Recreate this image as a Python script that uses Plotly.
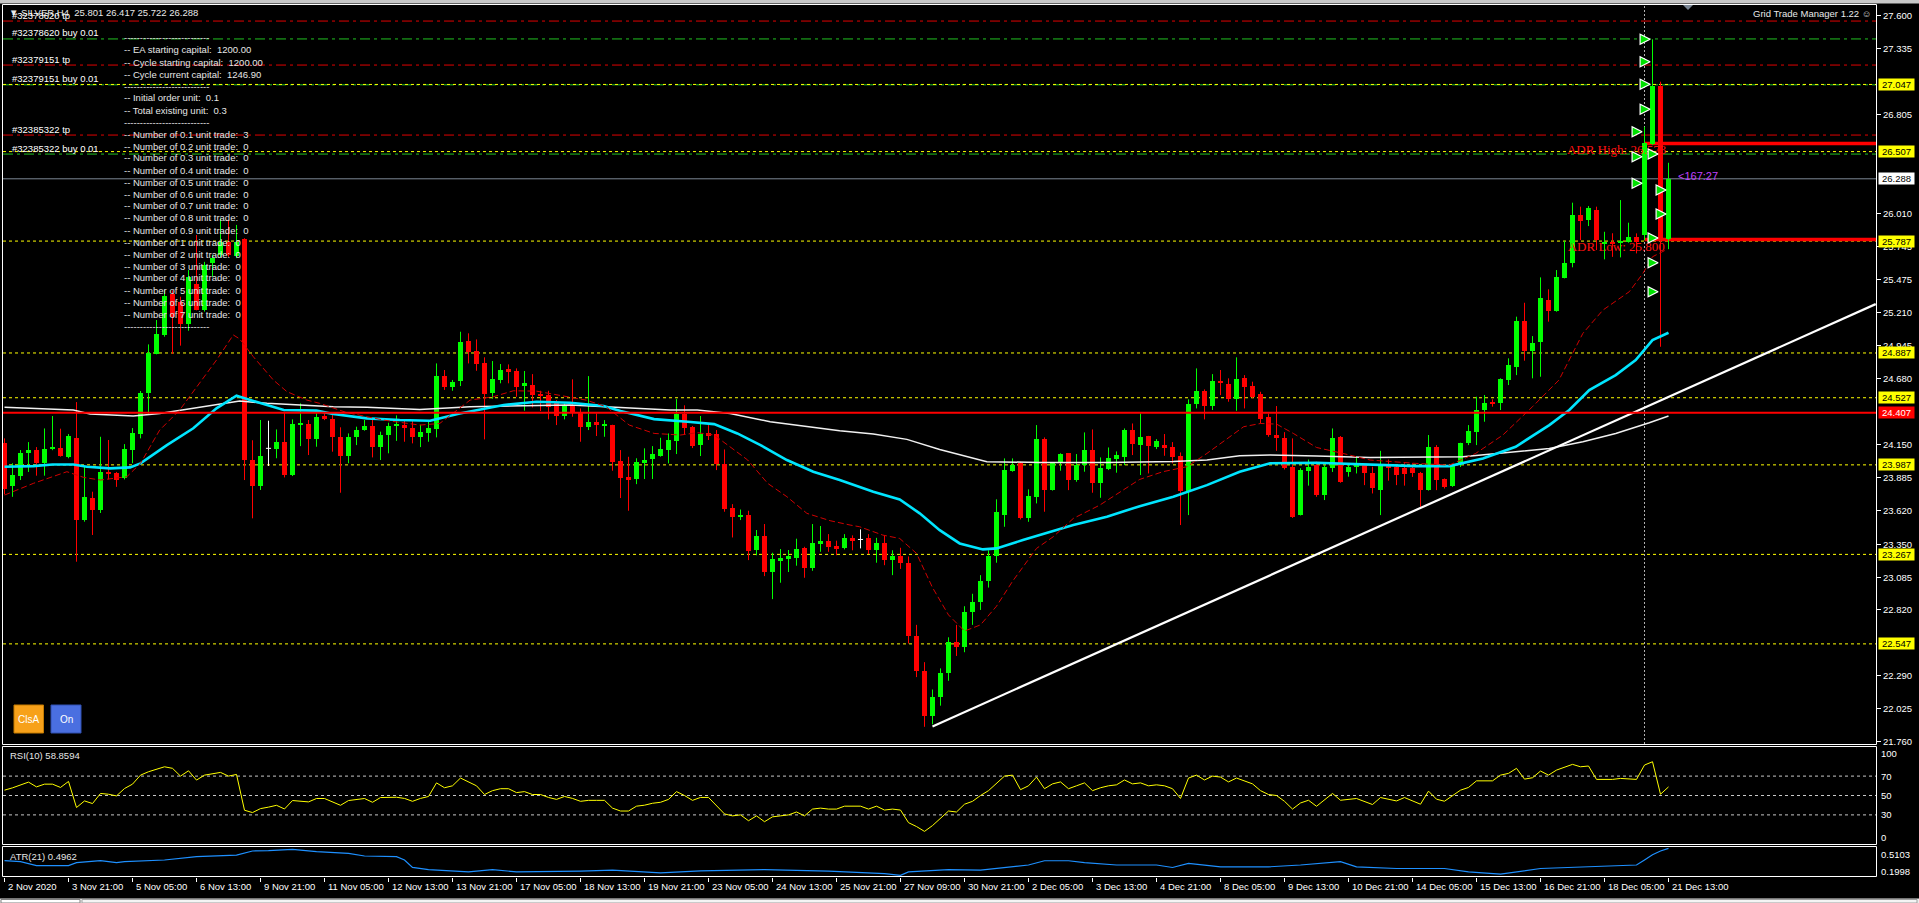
import plotly.graph_objects as go

W, H = 1919, 903
FONT = "Liberation Sans, Arial, sans-serif"

# ---------------- data ----------------
opens = [24.160, 23.820, 23.900, 24.080, 24.106, 24.000, 24.117, 24.120, 24.053, 24.200,
         23.543, 23.718, 23.624, 23.932, 23.920, 23.878, 24.107, 24.235, 24.562, 24.880,
         25.031, 25.360, 25.300, 25.120, 25.440, 25.233, 25.610, 25.675, 25.780, 25.670,
         25.800, 24.030, 23.817, 24.120, 24.118, 24.168, 23.905, 24.315, 24.315, 24.195,
         24.380, 24.360, 24.208, 24.060, 24.208, 24.267, 24.300, 24.128, 24.227, 24.300,
         24.310, 24.280, 24.208, 24.245, 24.275, 24.701, 24.615, 24.660, 24.983, 24.902,
         24.809, 24.562, 24.668, 24.758, 24.742, 24.629, 24.629, 24.557, 24.548, 24.482,
         24.380, 24.460, 24.412, 24.288, 24.331, 24.300, 24.307, 24.017, 23.886, 23.870,
         24.000, 24.034, 24.060, 24.106, 24.178, 24.396, 24.291, 24.146, 24.240, 24.235,
         23.991, 23.637, 23.570, 23.583, 23.302, 23.414, 23.127, 23.216, 23.229, 23.240,
         23.318, 23.159, 23.350, 23.374, 23.334, 23.315, 23.395, 23.387, 23.395, 23.300,
         23.360, 23.220, 23.250, 23.200, 22.610, 22.330, 21.970, 22.120, 22.310, 22.560,
         22.520, 22.800, 22.880, 23.050, 23.250, 23.583, 23.937, 23.999, 23.556, 23.730,
         24.194, 23.784, 23.999, 24.080, 23.865, 23.985, 24.106, 23.843, 23.953, 24.034,
         24.053, 24.267, 24.146, 24.219, 24.133, 24.146, 24.133, 24.058, 23.776, 24.476,
         24.581, 24.460, 24.661, 24.637, 24.516, 24.682, 24.621, 24.556, 24.369, 24.227,
         24.200, 23.970, 23.583, 23.940, 23.985, 23.744, 23.958, 24.213, 23.932, 23.972,
         23.985, 23.924, 23.784, 23.985, 23.972, 23.960, 23.960, 23.923, 23.784, 24.133,
         23.870, 23.816, 23.985, 24.160, 24.253, 24.428, 24.495, 24.487, 24.669, 24.776,
         25.144, 24.902, 24.978, 25.313, 25.224, 25.493, 25.608, 25.997, 25.957, 26.037,
         25.763, 25.780, 25.770, 25.782, 25.822, 25.835, 26.568, 27.034, 25.801]

highs = [24.200, 24.000, 24.106, 24.170, 24.130, 24.280, 24.380, 24.278, 24.235, 24.492,
         23.972, 23.771, 24.213, 24.187, 23.930, 24.154, 24.283, 24.581, 24.956, 25.152,
         25.393, 25.390, 25.340, 25.554, 25.836, 25.620, 25.675, 25.970, 25.957, 25.917,
         25.810, 24.185, 24.348, 24.342, 24.272, 24.415, 24.353, 24.482, 24.348, 24.401,
         24.400, 24.388, 24.289, 24.240, 24.294, 24.348, 24.348, 24.254, 24.326, 24.385,
         24.340, 24.340, 24.310, 24.334, 24.803, 24.750, 24.670, 25.058, 25.045, 24.996,
         24.852, 24.822, 24.798, 24.795, 24.763, 24.742, 24.717, 24.583, 24.583, 24.508,
         24.482, 24.675, 24.441, 24.701, 24.401, 24.347, 24.310, 24.106, 24.052, 24.040,
         24.120, 24.138, 24.205, 24.240, 24.516, 24.466, 24.300, 24.380, 24.307, 24.267,
         24.111, 23.671, 23.628, 23.618, 23.463, 23.511, 23.280, 23.310, 23.302, 23.393,
         23.328, 23.511, 23.495, 23.430, 23.377, 23.430, 23.420, 23.468, 23.430, 23.400,
         23.420, 23.300, 23.320, 23.250, 22.700, 22.400, 22.180, 22.350, 22.600, 22.700,
         22.850, 22.950, 23.100, 23.300, 23.710, 24.039, 24.039, 24.012, 23.790, 24.307,
         24.208, 24.000, 24.080, 24.080, 24.074, 24.248, 24.272, 24.047, 24.127, 24.095,
         24.280, 24.320, 24.401, 24.220, 24.194, 24.235, 24.170, 24.087, 24.514, 24.763,
         24.594, 24.717, 24.750, 24.683, 24.852, 24.709, 24.656, 24.575, 24.400, 24.460,
         24.250, 24.200, 23.960, 24.030, 24.012, 23.985, 24.280, 24.219, 23.999, 24.053,
         23.993, 23.972, 24.100, 24.030, 23.985, 24.000, 24.000, 23.930, 24.227, 24.146,
         23.878, 23.993, 24.165, 24.307, 24.535, 24.549, 24.514, 24.683, 24.844, 25.179,
         25.291, 25.023, 25.495, 25.399, 25.554, 25.790, 26.096, 26.064, 26.069, 26.064,
         25.862, 25.850, 26.117, 25.935, 25.849, 26.707, 27.410, 27.069, 26.417]

lows = [23.750, 23.730, 23.865, 23.930, 23.900, 23.900, 24.105, 24.053, 24.040, 23.208,
        23.530, 23.423, 23.600, 23.870, 23.810, 23.870, 24.000, 24.200, 24.388, 24.876,
        25.018, 24.879, 24.946, 25.066, 25.230, 25.220, 25.500, 25.660, 25.660, 25.650,
        23.865, 23.557, 23.785, 23.978, 24.040, 23.886, 23.897, 24.138, 24.066, 24.133,
        24.347, 24.093, 23.763, 24.000, 24.146, 24.262, 24.047, 24.026, 24.080, 24.180,
        24.173, 24.160, 24.130, 24.173, 24.208, 24.590, 24.583, 24.621, 24.803, 24.744,
        24.192, 24.519, 24.643, 24.643, 24.535, 24.423, 24.449, 24.420, 24.353, 24.307,
        24.353, 24.374, 24.173, 24.267, 24.219, 24.213, 23.940, 23.720, 23.618, 23.832,
        23.873, 23.873, 24.053, 23.999, 24.074, 24.230, 24.122, 24.058, 24.187, 23.945,
        23.610, 23.403, 23.543, 23.221, 23.260, 23.092, 22.907, 23.039, 23.125, 23.176,
        23.079, 23.135, 23.288, 23.288, 23.260, 23.307, 23.300, 23.315, 23.270, 23.200,
        23.180, 23.100, 23.150, 22.550, 22.280, 21.880, 21.900, 22.050, 22.250, 22.450,
        22.480, 22.700, 22.820, 23.000, 23.200, 23.489, 23.932, 23.548, 23.529, 23.677,
        23.610, 23.780, 23.940, 23.784, 23.851, 23.932, 23.763, 23.722, 23.945, 23.924,
        23.985, 24.066, 23.905, 23.918, 24.114, 24.060, 23.999, 23.503, 23.583, 24.441,
        24.353, 24.428, 24.548, 24.495, 24.422, 24.441, 24.522, 24.320, 24.213, 24.100,
        23.950, 23.560, 23.580, 23.820, 23.730, 23.704, 23.930, 23.843, 23.892, 23.918,
        23.824, 23.757, 23.583, 23.860, 23.824, 23.820, 23.890, 23.650, 23.780, 23.784,
        23.797, 23.810, 23.970, 24.146, 24.146, 24.334, 24.455, 24.428, 24.629, 24.709,
        24.825, 24.683, 24.696, 25.139, 25.219, 25.487, 25.576, 25.795, 25.908, 25.715,
        25.640, 25.660, 25.656, 25.774, 25.688, 25.795, 26.560, 24.937, 25.722]

closes = [23.790, 23.905, 24.080, 24.106, 24.000, 24.117, 24.120, 24.060, 24.219, 23.543,
          23.731, 23.624, 23.932, 23.918, 23.865, 24.114, 24.240, 24.568, 24.884, 25.040,
          25.345, 25.173, 25.120, 25.501, 25.233, 25.595, 25.650, 25.780, 25.675, 25.780,
          24.026, 23.817, 24.058, 24.120, 24.168, 23.905, 24.315, 24.320, 24.195, 24.374,
          24.358, 24.208, 24.060, 24.208, 24.267, 24.300, 24.128, 24.227, 24.300, 24.310,
          24.280, 24.208, 24.250, 24.286, 24.701, 24.610, 24.656, 24.978, 24.897, 24.798,
          24.557, 24.677, 24.750, 24.736, 24.610, 24.642, 24.549, 24.540, 24.449, 24.380,
          24.460, 24.401, 24.288, 24.331, 24.310, 24.310, 24.009, 23.884, 23.873, 24.010,
          24.026, 24.074, 24.114, 24.187, 24.396, 24.283, 24.138, 24.235, 24.227, 23.991,
          23.632, 23.570, 23.583, 23.296, 23.414, 23.127, 23.229, 23.240, 23.256, 23.310,
          23.159, 23.355, 23.377, 23.323, 23.312, 23.395, 23.382, 23.387, 23.300, 23.360,
          23.220, 23.250, 23.200, 22.610, 22.330, 21.970, 22.120, 22.310, 22.560, 22.520,
          22.800, 22.880, 23.050, 23.250, 23.610, 23.945, 23.988, 23.556, 23.736, 24.194,
          23.784, 23.999, 24.074, 23.865, 23.985, 24.106, 23.843, 23.959, 24.039, 24.066,
          24.267, 24.154, 24.210, 24.138, 24.178, 24.125, 24.053, 23.776, 24.476, 24.581,
          24.460, 24.661, 24.642, 24.516, 24.674, 24.615, 24.530, 24.358, 24.227, 24.200,
          23.960, 23.570, 23.945, 23.970, 23.744, 23.972, 24.200, 23.851, 23.972, 24.000,
          23.918, 23.798, 23.985, 23.960, 23.905, 23.910, 23.918, 23.784, 24.133, 23.865,
          23.811, 23.985, 24.160, 24.259, 24.428, 24.487, 24.476, 24.675, 24.790, 25.144,
          24.902, 24.970, 25.332, 25.224, 25.500, 25.608, 25.997, 25.951, 26.050, 25.795,
          25.780, 25.770, 25.790, 25.817, 25.782, 26.573, 27.034, 25.796, 26.288]

date_labels = ["2 Nov 2020", "3 Nov 21:00", "5 Nov 05:00", "6 Nov 13:00", "9 Nov 21:00",
               "11 Nov 05:00", "12 Nov 13:00", "13 Nov 21:00", "17 Nov 05:00", "18 Nov 13:00",
               "19 Nov 21:00", "23 Nov 05:00", "24 Nov 13:00", "25 Nov 21:00", "27 Nov 09:00",
               "30 Nov 21:00", "2 Dec 05:00", "3 Dec 13:00", "4 Dec 21:00", "8 Dec 05:00",
               "9 Dec 13:00", "10 Dec 21:00", "14 Dec 05:00", "15 Dec 13:00", "16 Dec 21:00",
               "18 Dec 05:00", "21 Dec 13:00"]
date_label_bars = list(range(0, 209, 8))

# moving averages (read at sample bars)
ma_fast_x = [0, 3.6, 7.8, 9.9, 12, 15.3, 17, 19.4, 21.9, 24.4, 26.5, 28.6, 29.4, 31.1, 33.6, 35.3,
             37.8, 39.4, 42.8, 47.3, 51.9, 54.4, 58.2, 61.1, 63.6, 66.5, 69.4, 72.7, 75.2, 78.1,
             81.2, 84.5, 86.6, 88.7, 90.4, 92.9, 95.4, 97.8, 100.3, 103.2, 105.7, 106.9, 109.8,
             111.9, 114, 116, 118, 120, 122, 124, 126, 128, 129, 131.1, 133.6, 136.9, 139.8,
             141.9, 144.8, 147.8, 150.3, 152.3, 154.9, 157, 159, 161.1, 164, 167.3, 170.7,
             176.4, 180.6, 183.9, 187.3, 191, 194.3, 197.3, 199.8, 203.1, 204.8, 206, 207.8]
ma_fast_y = [23.744, 23.838, 23.932, 23.886, 23.865, 23.892, 23.999, 24.267, 24.428, 24.642,
             24.830, 25.032, 25.000, 24.857, 24.670, 24.576, 24.508, 24.482, 24.407, 24.348,
             24.307, 24.320, 24.508, 24.535, 24.583, 24.580, 24.548, 24.508, 24.455, 24.307,
             24.240, 24.227, 24.246, 24.227, 24.146, 24.026, 23.838, 23.731, 23.597, 23.538,
             23.503, 23.489, 23.422, 23.395, 23.275, 23.000, 22.780, 22.650, 22.700, 22.850,
             23.050, 23.220, 23.315, 23.409, 23.556, 23.663, 23.779, 23.870, 23.932, 23.972,
             24.079, 24.173, 24.294, 24.320, 24.315, 24.240, 24.127, 24.079, 24.026, 23.999,
             23.985, 24.079, 24.227, 24.455, 24.669, 25.045, 25.232, 25.380, 25.527, 25.661,
             25.720]

ma_mid_x = [0, 3.6, 6, 8.6, 10.3, 13.2, 15.7, 17, 20.3, 23.6, 26.5, 29, 31, 34.9, 39, 41.1,
            45.3, 49.4, 53.2, 56.9, 62.4, 66.5, 70.7, 74.9, 77, 81.2, 85.4, 88.7, 91.6, 94.5,
            97.8, 101.1, 104.4, 108.6, 111.9, 114.4, 116.9, 119.4, 122.3, 124, 127.3, 129.4,
            133.6, 137.8, 141.9, 146.1, 150.3, 154.4, 158.2, 164, 168.2, 172.3, 176.4, 180.6,
            184.8, 188.9, 193.1, 195.6, 198.1, 201.4, 203.9, 206, 208]
ma_mid_y = [23.972, 23.977, 23.990, 23.990, 23.972, 23.959, 23.967, 23.999, 24.146, 24.281,
            24.442, 24.543, 24.503, 24.428, 24.423, 24.396, 24.361, 24.348, 24.342, 24.401,
            24.468, 24.495, 24.487, 24.460, 24.420, 24.355, 24.334, 24.315, 24.240, 24.146,
            24.026, 23.932, 23.865, 23.771, 23.709, 23.597, 23.462, 23.355, 23.307, 23.315,
            23.382, 23.422, 23.503, 23.570, 23.655, 23.730, 23.824, 23.932, 24.000, 24.004,
            23.993, 23.985, 23.977, 23.977, 24.039, 24.133, 24.307, 24.428, 24.589, 24.709,
            24.830, 24.991, 25.050]

ma_slow_x = [0, 8.6, 10.7, 16.1, 19.4, 22.8, 26.5, 29.4, 32.8, 37, 41.1, 45.3, 51.9, 58.2,
             64.4, 70.7, 77, 83.2, 86.6, 90.7, 95.7, 99.9, 104.4, 108.6, 112.8, 116.9, 121.1,
             122.8, 129.4, 137.8, 146.1, 150.3, 154.4, 158.2, 164, 170.7, 182.3, 188.9, 193.1,
             197.3, 201.4, 205.6, 208]
ma_slow_y = [24.450, 24.428, 24.396, 24.380, 24.401, 24.433, 24.468, 24.500, 24.482, 24.468,
             24.455, 24.450, 24.433, 24.455, 24.460, 24.468, 24.449, 24.428, 24.428, 24.401,
             24.334, 24.300, 24.262, 24.235, 24.192, 24.111, 24.039, 24.012, 24.007, 24.007,
             24.015, 24.026, 24.060, 24.066, 24.058, 24.047, 24.052, 24.093, 24.119, 24.173,
             24.240, 24.326, 24.380]

# RSI(10)
rsi_x = [0, 1, 3, 4, 5, 6, 7, 8, 9, 10, 11, 12, 13, 14, 15, 16, 17, 18, 20, 21, 22, 23, 24, 25,
         27, 28, 29, 30, 31, 32, 33, 34, 35, 36, 38, 39, 40, 42, 43, 45, 46, 47, 49,
         50, 51, 52, 53, 54, 55, 56, 57, 58, 59, 60, 61, 62, 63, 64, 65, 66, 67, 68, 69,
         70, 71, 72, 73, 74, 75, 76, 77, 78, 79, 80, 81, 82, 83, 84, 85, 86, 87, 88, 89,
         90, 91, 92, 93, 94, 95, 96, 97, 98, 99, 100, 101, 102, 103, 104, 105, 106, 107,
         108, 109, 110, 111, 112, 113, 114, 115, 116, 117, 118, 119, 120, 121, 122, 123,
         124, 125, 126, 127, 128, 129, 130, 131, 132, 133, 134, 135, 136, 137, 138, 139,
         140, 141, 142, 143, 144, 145, 146, 147, 148, 149, 150, 151, 152, 153, 154, 155,
         156, 157, 158, 159, 160, 161, 162, 163, 164, 166, 167, 169, 171, 172, 174, 175,
         177, 178, 179, 180, 182, 183, 184, 186, 187, 188, 189, 190, 191, 192, 193, 194,
         196, 197, 198, 199, 201, 202, 204, 205, 206, 207, 208]
rsi_v = [55.5, 57.9, 63.8, 58.9, 61.7, 61.7, 58.3, 64.5, 37.6, 44.4, 41.7, 52.1, 51.3, 49.6,
         57.2, 61.7, 71.0, 74.5, 79.6, 78.0, 70.0, 75.5, 65.9, 71.0, 73.8, 70.0, 71.7, 34.8,
         32.4, 36.5, 38.0, 39.9, 36.1, 44.8, 43.4, 46.9, 46.9, 39.9, 44.8, 46.9, 43.0, 47.9,
         48.2,
         47, 44, 47, 49, 63, 58, 60, 68, 64, 60, 51, 55, 57, 57, 53, 54, 51, 51, 48, 46,
         49, 47, 44, 45, 45, 45, 37, 34, 34, 39, 40, 42, 43, 46, 54, 50, 45, 48, 48, 40,
         31, 29, 30, 24, 29, 23, 28, 29, 30, 33, 29, 36, 37, 36, 36, 39, 39, 39,
         36, 39, 35, 36, 35, 22, 18, 13, 19, 26, 34, 33, 41, 44, 50, 55,
         63, 70, 71, 56, 60, 69, 57, 62, 64, 57, 60, 63, 55, 58, 60, 61,
         66, 62, 63, 60, 61, 60, 57, 47, 68, 71, 66, 70, 69, 64, 68, 65,
         62, 55, 51, 50, 44, 36, 42.3, 45.1, 38.9, 52.1, 45.1, 46.9, 40.7, 47.9, 44.4, 47.9,
         41.0, 54.5, 46.2, 44.1, 55.5, 58.3, 65.1, 65.1, 71.0, 72.8, 78.0, 66.9, 68.3, 75.2,
         71.0, 76.2, 82.1, 79.6, 80.4, 66.6, 66.6, 67.6, 66.6, 81.4, 84.8, 51.3, 58.86]
rsi_levels = [70, 50, 30]

# ATR(21)
atr_x = [0, 2, 4, 8, 9, 12, 14, 15, 20, 24, 29, 30, 31, 33, 36, 39, 43, 45, 49, 50, 51, 53,
         58, 61, 64, 72, 76, 82, 87, 95, 103, 110, 112, 113, 118, 122, 128, 130, 133, 135,
         139, 144, 146, 148, 152, 158, 162, 167, 169, 174, 180, 183, 187, 192, 199, 204,
         205, 206, 207, 208]
atr_v = [0.369, 0.358, 0.317, 0.317, 0.348, 0.369, 0.348, 0.358, 0.376, 0.410, 0.427, 0.450,
         0.469, 0.472, 0.486, 0.462, 0.445, 0.417, 0.410, 0.376, 0.300, 0.277, 0.253, 0.277,
         0.253, 0.260, 0.270, 0.242, 0.264, 0.277, 0.260, 0.235, 0.217, 0.253, 0.277, 0.270,
         0.324, 0.368, 0.368, 0.348, 0.324, 0.324, 0.298, 0.340, 0.305, 0.305, 0.324, 0.358,
         0.305, 0.288, 0.288, 0.253, 0.229, 0.288, 0.305, 0.324, 0.376, 0.430, 0.469, 0.496]

# price levels
price_ticks = [27.600, 27.335, 26.805, 26.010, 25.745, 25.475, 25.210, 24.945, 24.680, 24.150,
               23.885, 23.620, 23.350, 23.085, 22.820, 22.290, 22.025, 21.760]
yellow_levels = [27.047, 26.507, 25.787, 24.887, 24.527, 23.987, 23.267, 22.547]
red_level = 24.407
bid_price = 26.288
order_tickets = ["#32378620", "#32379151", "#32385322"]
tp_levels = [27.557, 27.203, 26.640]
buy_levels = [27.413, 27.044, 26.487]
adr_high, adr_low = 26.573, 25.800
trend_start = (116, 21.883)
trend_end = (233.9, 25.280)
trade_arrow_bars = [205, 205, 205, 206, 206, 206, 206, 207, 207, 207, 207, 208, 208]
trade_arrow_prices = [26.667, 26.466, 26.252, 27.410, 27.230, 27.048, 26.847,
                      26.488, 25.812, 25.613, 25.380, 26.198, 26.005]
separator_bar = 205

panel_lines = ["-- EA starting capital:  1200.00",
               "-- Cycle starting capital:  1200.00",
               "-- Cycle current capital:  1246.90",
               "",
               "-- Initial order unit:  0.1",
               "-- Total existing unit:  0.3",
               ""]
unit_sizes = ["0.1", "0.2", "0.3", "0.4", "0.5", "0.6", "0.7", "0.8", "0.9",
              "1", "2", "3", "4", "5", "6", "7"]
unit_counts = [3, 0, 0, 0, 0, 0, 0, 0, 0, 0, 0, 0, 0, 0, 0, 0]

# ---------------- geometry ----------------
PLOT_L, PLOT_R = 3, 1876
MAIN_T, MAIN_B = 4, 744
RSI_T, RSI_B = 747, 844
ATR_T, ATR_B = 847, 877
BAR_PX = 8.0
BAR0_PX = 4.5
PX_PER_PRICE = 124.32
x_lo = (PLOT_L - BAR0_PX) / BAR_PX
x_hi = (PLOT_R - BAR0_PX) / BAR_PX
p_top = 27.600 + (15.7 - MAIN_T) / PX_PER_PRICE
p_bot = 27.600 - (MAIN_B - 15.7) / PX_PER_PRICE


def fx(p):
    return p / W


def fy(p):
    return 1 - p / H


n = len(closes)
idx = list(range(n))
bull = [i for i in idx if closes[i] > opens[i]]
bear = [i for i in idx if closes[i] < opens[i]]
doji = [i for i in idx if closes[i] == opens[i]]

fig = go.Figure()


def wick_trace(ids, color):
    xs, ys = [], []
    for i in ids:
        xs += [i, i, None]
        ys += [max(highs[i], opens[i], closes[i]), min(lows[i], opens[i], closes[i]), None]
    return go.Scatter(x=xs, y=ys, mode="lines", line=dict(color=color, width=1),
                      hoverinfo="skip", xaxis="x", yaxis="y")


def body_trace(ids, color):
    return go.Bar(x=ids, base=[min(opens[i], closes[i]) for i in ids],
                  y=[max(abs(closes[i] - opens[i]), 0.009) for i in ids],
                  width=0.625, marker=dict(color=color, line=dict(width=0)),
                  hoverinfo="skip", xaxis="x", yaxis="y")


# ADR labels (under the candles)
fig.add_trace(go.Scatter(x=[195.3, 195.4], y=[adr_high - 0.062, adr_low - 0.068],
                         text=[f"ADR High: {adr_high:.3f}", f"ADR Low: {adr_low:.3f}"],
                         mode="text", textposition="middle right",
                         textfont=dict(family="Liberation Serif, Times New Roman, serif",
                                       size=13, color="#ff1010"),
                         hoverinfo="skip", xaxis="x", yaxis="y"))

fig.add_trace(wick_trace(bull, "#00ff00"))
fig.add_trace(wick_trace(bear, "#ff0000"))
fig.add_trace(wick_trace(doji, "#ffffff"))
fig.add_trace(body_trace(bull, "#00ff00"))
fig.add_trace(body_trace(bear, "#ff0000"))
dx, dy = [], []
for i in doji:
    dx += [i - 0.32, i + 0.32, None]
    dy += [opens[i], opens[i], None]
fig.add_trace(go.Scatter(x=dx, y=dy, mode="lines", line=dict(color="#ffffff", width=1),
                         hoverinfo="skip", xaxis="x", yaxis="y"))

# moving averages
fig.add_trace(go.Scatter(x=ma_slow_x, y=ma_slow_y, mode="lines",
                         line=dict(color="#f0f0f0", width=1.5, shape="linear"),
                         hoverinfo="skip", xaxis="x", yaxis="y"))
fig.add_trace(go.Scatter(x=ma_mid_x, y=ma_mid_y, mode="lines",
                         line=dict(color="#00e5ff", width=2.6),
                         hoverinfo="skip", xaxis="x", yaxis="y"))
fig.add_trace(go.Scatter(x=ma_fast_x, y=ma_fast_y, mode="lines",
                         line=dict(color="#d00000", width=1, dash="6px,3px"),
                         hoverinfo="skip", xaxis="x", yaxis="y"))

# trend line
fig.add_trace(go.Scatter(x=[trend_start[0], trend_end[0]], y=[trend_start[1], trend_end[1]],
                         mode="lines", line=dict(color="#ffffff", width=2.2),
                         hoverinfo="skip", xaxis="x", yaxis="y"))

# trade arrows
fig.add_trace(go.Scatter(x=[b - 0.3 for b in trade_arrow_bars], y=trade_arrow_prices,
                         mode="markers",
                         marker=dict(symbol="arrow-right", size=10, color="#00e000",
                                     line=dict(color="#ffffff", width=1.2)),
                         hoverinfo="skip", xaxis="x", yaxis="y"))

# RSI & ATR
fig.add_trace(go.Scatter(x=rsi_x, y=rsi_v, mode="lines", line=dict(color="#ffff00", width=1),
                         hoverinfo="skip", xaxis="x", yaxis="y2"))
fig.add_trace(go.Scatter(x=atr_x, y=atr_v, mode="lines", line=dict(color="#1e90ff", width=1.2),
                         hoverinfo="skip", xaxis="x", yaxis="y3"))

# ---------------- shapes ----------------
shapes = []
# top frame strip and bottom strip
shapes.append(dict(type="rect", xref="paper", yref="paper", x0=0, x1=1, y0=fy(3.5), y1=1,
                   fillcolor="#c8c8c8", line=dict(width=0), layer="above"))
shapes.append(dict(type="rect", xref="paper", yref="paper", x0=0, x1=1, y0=0, y1=fy(898.5),
                   fillcolor="#ececec", line=dict(width=0), layer="above"))
shapes.append(dict(type="rect", xref="paper", yref="paper", x0=fx(1), x1=fx(80), y0=0,
                   y1=fy(899.5), fillcolor="#ffffff", line=dict(color="#808080", width=1),
                   layer="above"))
shapes.append(dict(type="rect", xref="paper", yref="paper", x0=fx(82), x1=fx(1917), y0=0,
                   y1=fy(899.5), fillcolor="#f4f4f4", line=dict(color="#a0a0a0", width=1),
                   layer="above"))


def hline(level, color, width, dash, layer="below", x0=None):
    return dict(type="line", xref="paper" if x0 is None else "x", yref="y",
                x0=fx(PLOT_L) if x0 is None else x0,
                x1=fx(PLOT_R) if x0 is None else x_hi,
                y0=level, y1=level, line=dict(color=color, width=width, dash=dash),
                layer=layer)


shapes.append(hline(bid_price, "#7d8894", 1, "solid"))
for lv in tp_levels:
    shapes.append(hline(lv, "#e00000", 1, "10px,4px,3px,4px"))
for lv in buy_levels:
    shapes.append(hline(lv, "#20c020", 1, "10px,4px,3px,4px"))
for lv in yellow_levels:
    shapes.append(hline(lv, "#ffff00", 1, "3px,3px"))
shapes.append(hline(adr_high, "#ff0000", 3.5, "solid", x0=separator_bar))
shapes.append(hline(adr_low, "#ff0000", 3.5, "solid", x0=separator_bar))
shapes.append(hline(red_level, "#ff0000", 2, "solid", layer="above"))
# day separator
shapes.append(dict(type="line", xref="x", yref="paper", x0=separator_bar, x1=separator_bar,
                   y0=fy(MAIN_B), y1=fy(MAIN_T), line=dict(color="#b0b0b0", width=1, dash="2px,2px"),
                   layer="below"))
# RSI levels
for lv in rsi_levels:
    shapes.append(dict(type="line", xref="paper", yref="y2", x0=fx(PLOT_L), x1=fx(PLOT_R),
                       y0=lv, y1=lv, line=dict(color="#c8c8c8", width=1, dash="3px,3px"),
                       layer="below"))
# panel borders
for (t, b) in [(MAIN_T + 0.5, MAIN_B + 0.5), (RSI_T - 0.5, RSI_B + 0.5), (ATR_T - 0.5, ATR_B - 0.5)]:
    shapes.append(dict(type="rect", xref="paper", yref="paper", x0=fx(2.5), x1=fx(1876.5),
                       y0=fy(b), y1=fy(t), line=dict(color="#ffffff", width=1),
                       fillcolor="rgba(0,0,0,0)", layer="above"))
# chart shift marker
shapes.append(dict(type="path", xref="paper", yref="paper",
                   path=f"M {fx(1683)} {fy(5)} L {fx(1693)} {fy(5)} L {fx(1688)} {fy(10)} Z",
                   fillcolor="#7a8694", line=dict(width=0), layer="above"))
# buttons
shapes.append(dict(type="rect", xref="paper", yref="paper", x0=fx(14), x1=fx(43.5),
                   y0=fy(733), y1=fy(705), fillcolor="#f7a11a", line=dict(color="#c47a00", width=1),
                   layer="above"))
shapes.append(dict(type="rect", xref="paper", yref="paper", x0=fx(51), x1=fx(81),
                   y0=fy(733), y1=fy(705), fillcolor="#4a6fe0", line=dict(color="#3050b0", width=1),
                   layer="above"))

# ---------------- annotations ----------------
ann = []


def text_px(t, x, y, size=9, color="#ffffff", xanchor="left", family=FONT, **kw):
    d = dict(text=t, xref="paper", yref="paper", x=fx(x), y=fy(y), xanchor=xanchor,
             yanchor="middle", showarrow=False, font=dict(family=family, size=size, color=color))
    d.update(kw)
    return d


NB = "\u00a0"
# title + order labels
ann.append(text_px("\u25bc" + NB + "SILVER,H4" + NB * 2 + "25.801 26.417 25.722 26.288", 7, 12.5,
                   size=9.5, color="#e8e8e8"))
for tk, tp, bl in zip(order_tickets, tp_levels, buy_levels):
    ann.append(dict(text=f"{tk} tp", xref="paper", yref="y", x=fx(10), y=tp, yshift=6,
                    xanchor="left", yanchor="middle", showarrow=False,
                    font=dict(family=FONT, size=9.5, color="#ffffff")))
    ann.append(dict(text=f"{tk} buy 0.01", xref="paper", yref="y", x=fx(10), y=bl, yshift=6,
                    xanchor="left", yanchor="middle", showarrow=False,
                    font=dict(family=FONT, size=9.5, color="#ffffff")))

# info panel
rows = [""] + panel_lines + [f"-- Number of {u} unit trade:{NB * 2}{c}" for u, c in zip(unit_sizes, unit_counts)] + [""]
SEP = "-" * 27
for k, r in enumerate(rows):
    y = 38 + 12 * k
    t = SEP if r == "" else r.replace("  ", NB * 2)
    ann.append(text_px(t, 122, y, size=9.5, color="#e6e6e6"))

# top right
ann.append(text_px("Grid Trade Manager 1.22 \u263a", 1873, 13.5, size=9.5, color="#e8e8e8",
                   xanchor="right"))
# countdown
ann.append(dict(text="<167:27", xref="x", yref="y", x=208.9, y=bid_price, yshift=3,
                xanchor="left", yanchor="middle", showarrow=False,
                font=dict(family=FONT, size=11, color="#c040ff")))
# buttons text
ann.append(text_px("ClsA", 28.7, 719, size=10, color="#ffffff", xanchor="center"))
ann.append(text_px("On", 66, 719, size=10, color="#ffffff", xanchor="center"))

# price axis labels
for v in price_ticks:
    ann.append(dict(text=f"{v:.3f}", xref="paper", yref="y", x=fx(1881), y=v, xanchor="left",
                    yanchor="middle", showarrow=False, font=dict(family=FONT, size=9.5, color="#ffffff")))
for v in yellow_levels:
    ann.append(dict(text=f"{v:.3f}", xref="paper", yref="y", x=fx(1878), y=v, xanchor="left",
                    yanchor="middle", showarrow=False, bgcolor="#ffff00", borderpad=1, width=33,
                    height=9, font=dict(family=FONT, size=9.5, color="#000000")))
ann.append(dict(text=f"{bid_price:.3f}", xref="paper", yref="y", x=fx(1878), y=bid_price,
                xanchor="left", yanchor="middle", showarrow=False, bgcolor="#ffffff", borderpad=1,
                width=33, height=9, font=dict(family=FONT, size=9.5, color="#000000")))
ann.append(dict(text=f"{red_level:.3f}", xref="paper", yref="y", x=fx(1878), y=red_level,
                xanchor="left", yanchor="middle", showarrow=False, bgcolor="#ff0000", borderpad=1,
                width=33, height=9, font=dict(family=FONT, size=9.5, color="#ffffff")))

# RSI / ATR labels
for v, sh in [(100, -6), (70, 0), (50, 0), (30, 0), (0, 7)]:
    ann.append(dict(text=str(v), xref="paper", yref="y2", x=fx(1879), y=v, yshift=sh,
                    xanchor="left", yanchor="middle", showarrow=False,
                    font=dict(family=FONT, size=9.5, color="#ffffff")))
ann.append(dict(text="0.5103", xref="paper", yref="y3", x=fx(1879), y=0.5103, yshift=-7,
                xanchor="left", yanchor="middle", showarrow=False,
                font=dict(family=FONT, size=9.5, color="#ffffff")))
ann.append(dict(text="0.1998", xref="paper", yref="y3", x=fx(1879), y=0.1998, yshift=6,
                xanchor="left", yanchor="middle", showarrow=False,
                font=dict(family=FONT, size=9.5, color="#ffffff")))
ann.append(text_px(f"RSI(10) {58.8594:.4f}", 8, 755, size=9.5, color="#e6e6e6"))
ann.append(text_px(f"ATR(21) {0.4962:.4f}", 8, 856, size=9.5, color="#e6e6e6"))

# date labels
for b, lab in zip(date_label_bars, date_labels):
    ann.append(dict(text=lab, xref="x", yref="paper", x=b, y=fy(886.5), xshift=1,
                    xanchor="left", yanchor="middle", showarrow=False,
                    font=dict(family=FONT, size=9.5, color="#ffffff")))

fig.update_layout(
    width=W, height=H, autosize=False,
    margin=dict(l=0, r=0, t=0, b=0, pad=0),
    paper_bgcolor="#000000", plot_bgcolor="#000000",
    showlegend=False, hovermode=False, barmode="overlay", bargap=0,
    xaxis=dict(domain=[fx(PLOT_L), fx(PLOT_R)], range=[x_lo, x_hi], anchor="y3",
               showgrid=False, zeroline=False, showline=False, tickmode="array",
               tickvals=date_label_bars, ticks="outside", ticklen=4, tickcolor="#ffffff",
               tickwidth=1, showticklabels=False, fixedrange=True),
    yaxis=dict(domain=[fy(MAIN_B), fy(MAIN_T)], range=[p_bot, p_top], side="right", anchor="x",
               showgrid=False, zeroline=False, showline=False, tickmode="array",
               tickvals=price_ticks, ticks="outside", ticklen=4, tickcolor="#ffffff",
               showticklabels=False, fixedrange=True),
    yaxis2=dict(domain=[fy(RSI_B), fy(RSI_T)], range=[0, 100], anchor="x", side="right",
                showgrid=False, zeroline=False, showline=False, showticklabels=False,
                fixedrange=True),
    yaxis3=dict(domain=[fy(ATR_B), fy(ATR_T)], range=[0.1998, 0.5103], anchor="x", side="right",
                showgrid=False, zeroline=False, showline=False, showticklabels=False,
                fixedrange=True),
    shapes=shapes,
    annotations=ann,
)

fig.write_html("out.html", config={"displayModeBar": False},
               post_script="document.body.style.margin='0px';document.body.style.padding='0px';"
                           "document.body.style.overflow='hidden';")
